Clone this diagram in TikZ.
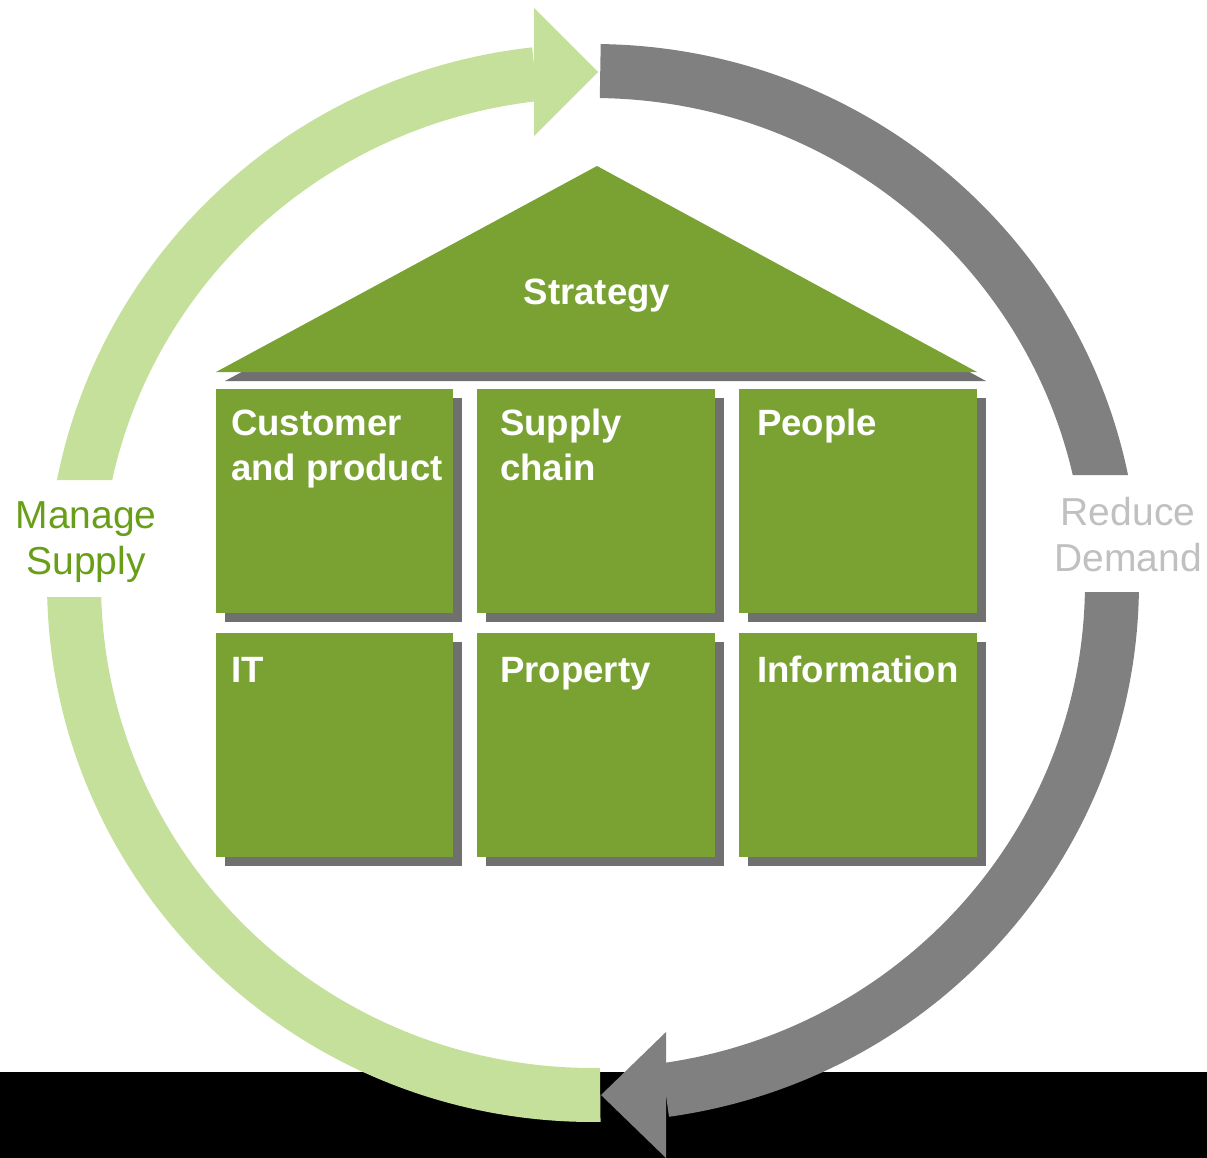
\documentclass[tikz,border=0pt]{standalone}
\usepackage{fontspec}
\setmainfont{Liberation Sans}
\usetikzlibrary{calc,shadows}
\definecolor{housegreen}{RGB}{122,162,51}
\definecolor{lightgreen}{RGB}{197,224,155}
\definecolor{arcgray}{RGB}{128,128,128}
\definecolor{shadowgray}{RGB}{112,112,112}
\definecolor{managegreen}{RGB}{104,158,24}
\definecolor{reducegray}{RGB}{192,192,192}

\begin{document}
\begin{tikzpicture}[x=1pt,y=-1pt]
			\useasboundingbox (0,0) rectangle (1207,1158);
			\tikzstyle{block}=[rectangle, fill=housegreen, inner sep=0pt, minimum width=237.5pt, minimum height=224pt, drop shadow={shadow xshift=9pt, shadow yshift=-9pt, fill=shadowgray, opacity=1}]
			\tikzstyle{blocktext}=[anchor=base west, inner sep=0pt, align=left, text=white, font=\fontsize{36.6}{45}\selectfont\bfseries]
			\tikzstyle{cycletext}=[align=center, inner sep=0pt, font=\fontsize{39}{46}\selectfont]
			\coordinate (ctr) at (593,583);
			
			% black band at the foot
			\fill[black] (0,1072) rectangle (1207,1158);
			
			% manage supply arc
			\begin{scope}
				\clip (0,0) rectangle (1207,480) (0,597) rectangle (1207,1158);
				\draw[lightgreen, line width=54pt] ($(ctr)+(89.2:519 and 512)$) arc[start angle=89.2, end angle=263.6, x radius=519, y radius=512];
			\end{scope}
			\coordinate (g1) at (534,8);
			\coordinate (g2) at (598,72);
			\coordinate (g3) at (534,136);
			\fill[lightgreen] (g1) -- (g2) -- (g3) -- cycle;
			
			% reduce demand arc
			\begin{scope}
				\clip (0,0) rectangle (1207,475) (0,592) rectangle (1207,1158);
				\draw[arcgray, line width=54pt] ($(ctr)+(270.8:519 and 512)$) arc[start angle=270.8, end angle=442, x radius=519, y radius=512];
			\end{scope}
			\coordinate (d1) at (666,1032);
			\coordinate (d2) at (601,1095);
			\coordinate (d3) at (666,1158);
			\fill[arcgray] (d1) -- (d2) -- (d3) -- cycle;
			
			\node[cycletext, text=managegreen] (manage) at (86,542) {Manage\\Supply};
			\node[cycletext, text=reducegray] (reduce) at (1128,535) {Reduce\\Demand};
			
			% roof
			\coordinate (apex) at (597,166);
			\coordinate (eaveL) at (216,372);
			\coordinate (eaveR) at (977,372);
			\fill[housegreen, drop shadow={shadow xshift=9pt, shadow yshift=-9pt, fill=shadowgray, opacity=1}] (apex) -- (eaveR) -- (eaveL) -- cycle;
			\node[blocktext, anchor=base] (strategy) at (597,305) {Strategy};
			
			% rooms
			\node[block] (cp) at (334.5,501) {};
			\node[block] (sc) at (596,501) {};
			\node[block] (pe) at (858,501) {};
			\node[block] (it) at (334.5,745) {};
			\node[block] (pr) at (596,745) {};
			\node[block] (in) at (858,745) {};
			
			\node[blocktext] (cptext) at (231,480) {Customer\\and product};
			\node[blocktext] (sctext) at (500,480) {Supply\\chain};
			\node[blocktext] (petext) at (757,435) {People};
			\node[blocktext] (ittext) at (231,682) {IT};
			\node[blocktext] (prtext) at (500,682) {Property};
			\node[blocktext] (intext) at (757,682) {Information};
		\end{tikzpicture}
\end{document}
